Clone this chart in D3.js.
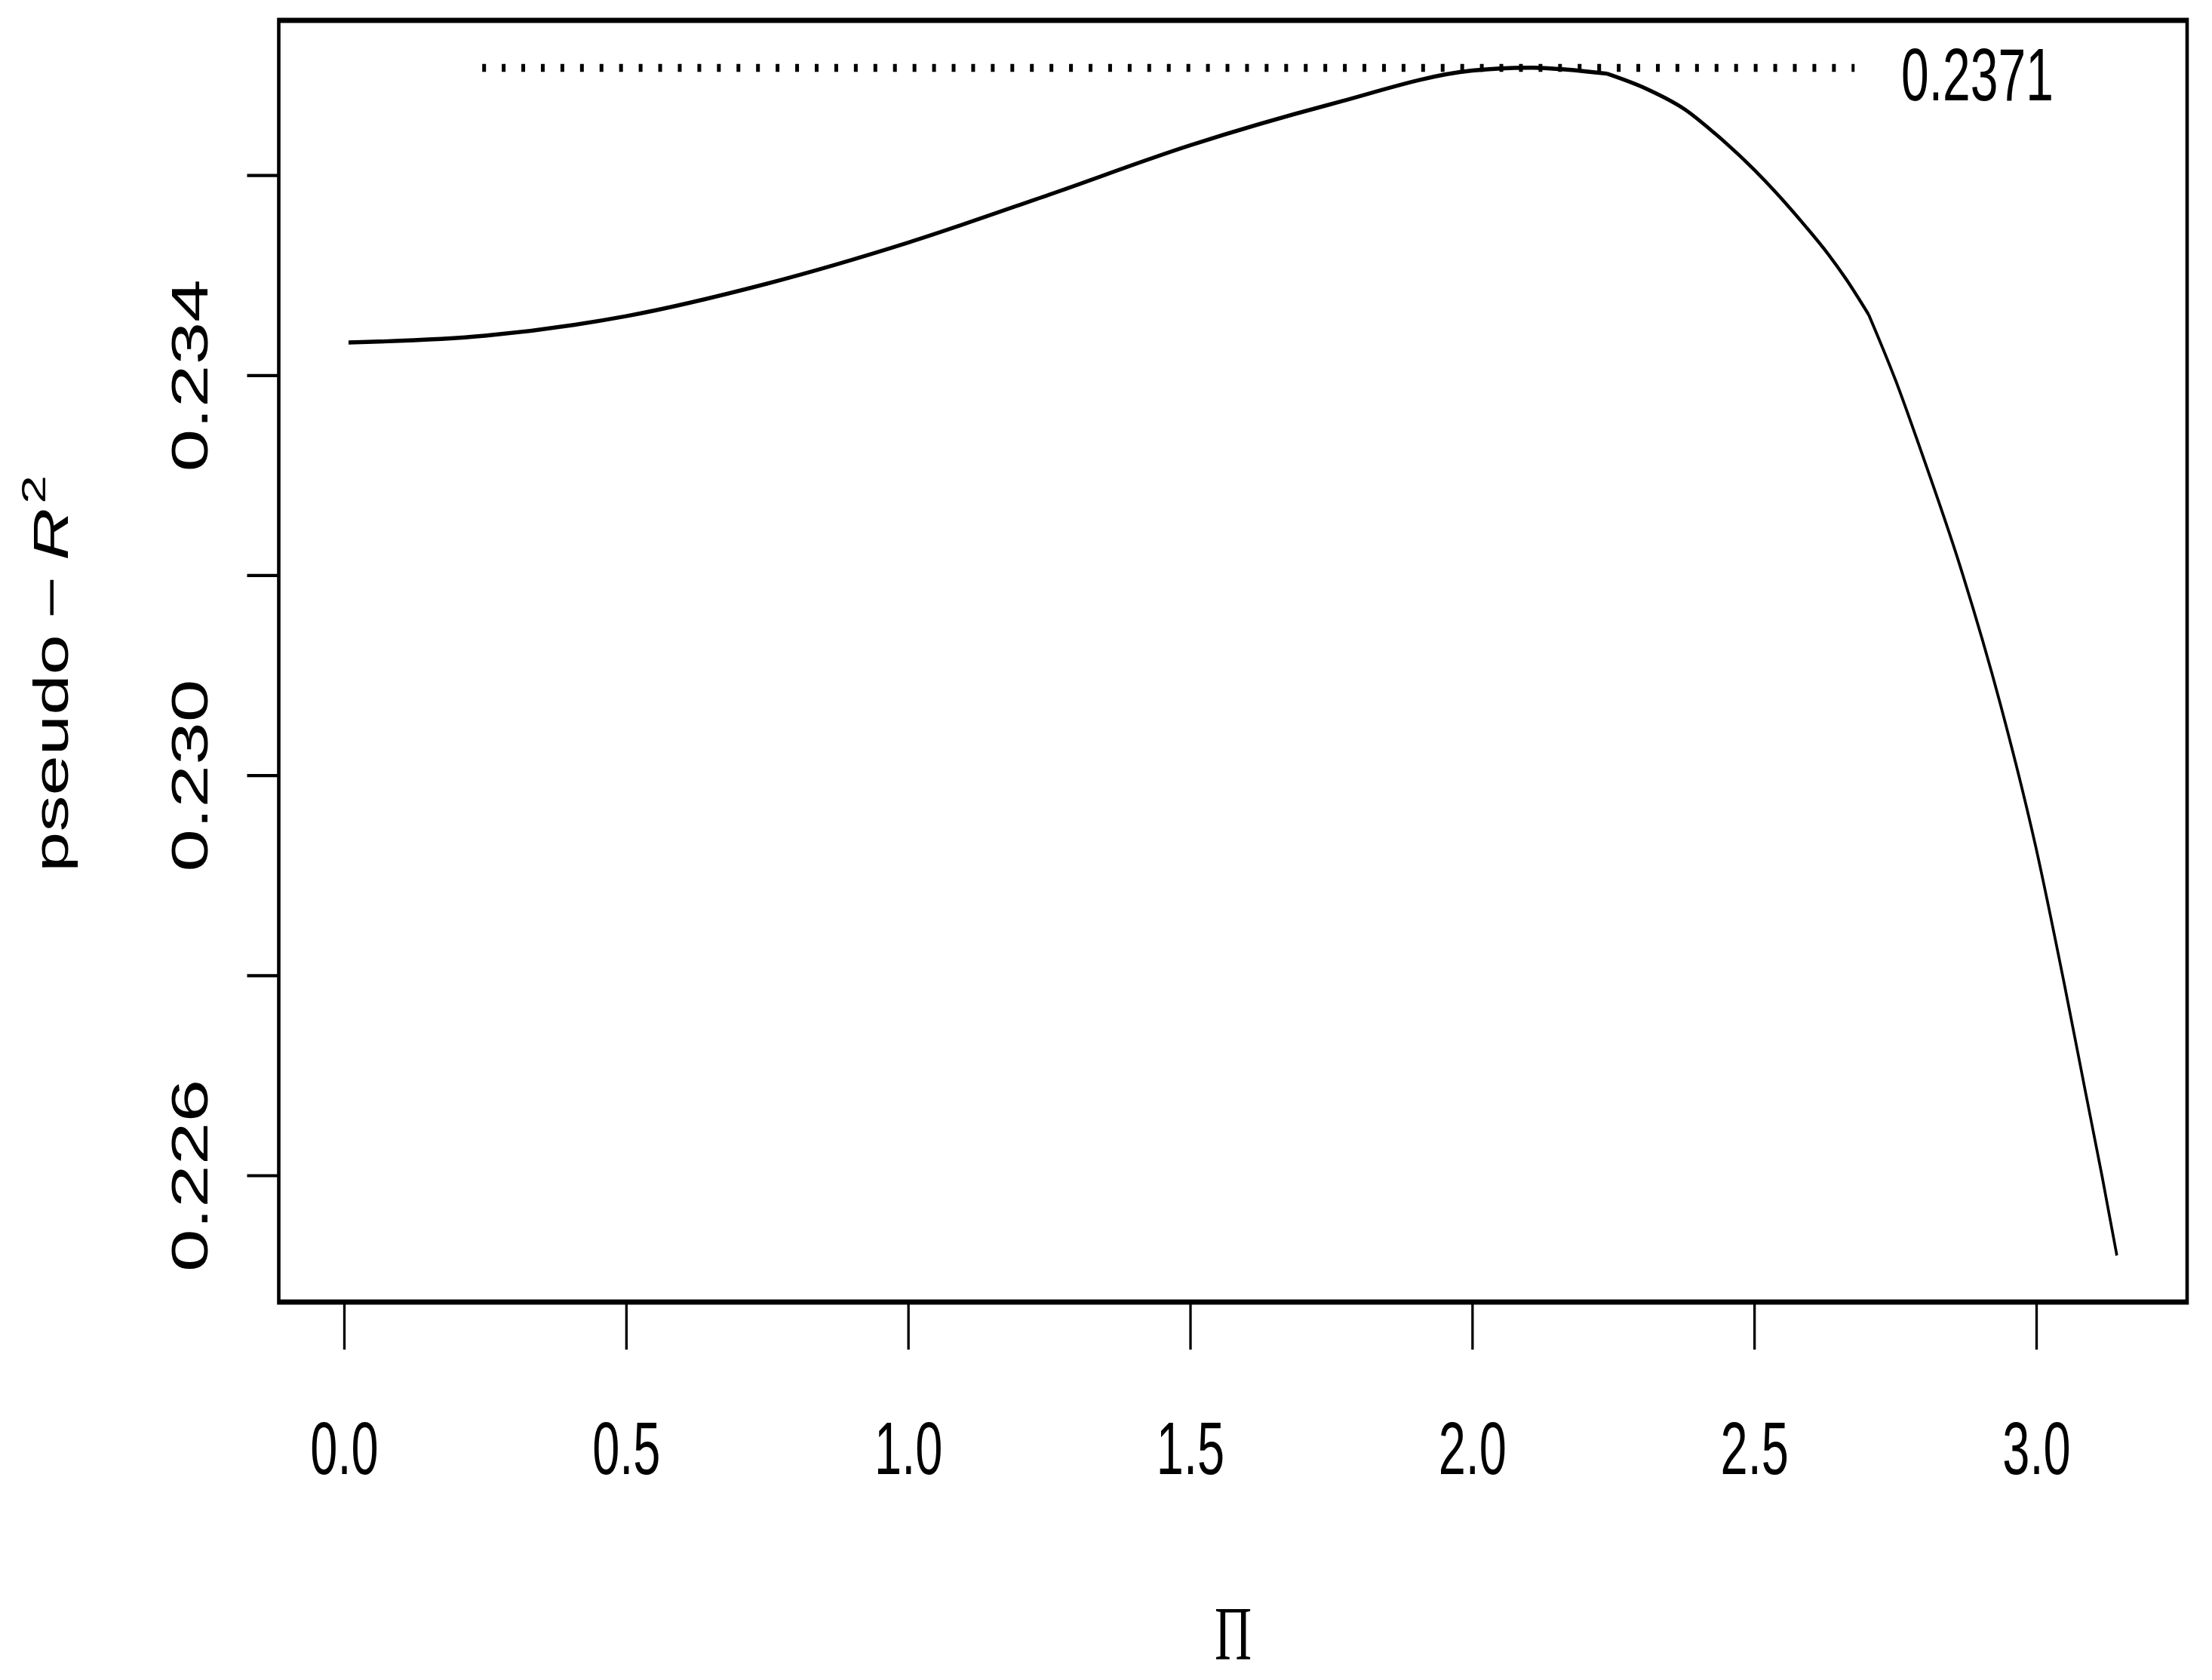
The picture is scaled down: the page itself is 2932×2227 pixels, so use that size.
<!DOCTYPE html>
<html>
<head>
<meta charset="utf-8">
<script src="https://cdn.jsdelivr.net/npm/d3@7"></script>
<style>
html, body { margin: 0; padding: 0; background: #ffffff; }
svg { display: block; }
</style>
</head>
<body>
<script>
// ---- data ----
const piValues = [0.008, 0.25, 0.5, 0.75, 1.0, 1.25, 1.5, 1.75, 2.0, 2.1, 2.239, 2.31, 2.377, 2.43, 2.5, 2.591, 2.631, 2.663, 2.703, 2.752, 2.796, 2.864, 2.937, 2.999, 3.051, 3.088, 3.117, 3.143];
const r2Values = [0.234324, 0.234392, 0.234588, 0.234913, 0.235323, 0.235802, 0.236296, 0.236708, 0.237043, 0.237072, 0.237012, 0.236858, 0.236655, 0.236416, 0.236052, 0.235486, 0.235209, 0.234958, 0.234603, 0.233927, 0.233236, 0.232107, 0.230697, 0.229287, 0.227877, 0.226812, 0.225982, 0.225196];
const kinkPi = [2.239, 2.703];
const xTickValues = [0.0, 0.5, 1.0, 1.5, 2.0, 2.5, 3.0];
const yTickValues = [0.226, 0.228, 0.230, 0.232, 0.234, 0.236];
const yTickLabelled = [0.226, 0.230, 0.234];
const maxLineFrom = 0.245, maxLineTo = 2.678, maxValue = 0.23707;
const maxLabel = "0.2371";
const xTitle = "\u03A0";

// ---- layout ----
const W = 2932, H = 2227;
const S = 1.5; // vertical stretch of the whole figure
const pL = 369.5, pR = 2899, pT = 27, pB = 1726;

const svg = d3.select("body").append("svg").attr("width", W).attr("height", H);
svg.append("rect").attr("width", W).attr("height", H).attr("fill", "#fff");
const g = svg.append("g").attr("transform", `scale(1,${S})`);

const x = d3.scaleLinear().domain([-0.1157, 3.2675]).range([pL, pR]);
const y = d3.scaleLinear().domain([0.224731, 0.237545]).range([pB / S, pT / S]);

// curve, split at the kinks so the corners stay sharp
const pts = piValues.map((p, i) => [p, r2Values[i]]);
const segments = [];
let cur = [];
pts.forEach(pt => {
  cur.push(pt);
  if (kinkPi.some(k => Math.abs(k - pt[0]) < 1e-9)) { segments.push(cur); cur = [pt]; }
});
segments.push(cur);
const line = d3.line().x(d => x(d[0])).y(d => y(d[1])).curve(d3.curveMonotoneX);
g.append("path").attr("d", segments.map(s => line(s)).join(""))
  .attr("fill", "none").attr("stroke", "#000").attr("stroke-width", 3.6).attr("stroke-linejoin", "round");

// dotted max line
g.append("line")
  .attr("x1", x(maxLineFrom)).attr("x2", x(maxLineTo))
  .attr("y1", y(maxValue)).attr("y2", y(maxValue))
  .attr("stroke", "#000").attr("stroke-width", 7).attr("stroke-dasharray", "5 20.93");

g.append("text").attr("x", 2520).attr("y", 133 / S)
  .attr("font-family", "Liberation Sans, Arial, sans-serif").attr("font-size", 66)
  .text(maxLabel);

// x axis
const xAxis = g.append("g").attr("transform", `translate(0,${pB / S})`)
  .call(d3.axisBottom(x).tickValues(xTickValues).tickSize(42).tickFormat(d3.format(".1f")));
xAxis.select(".domain").remove();
xAxis.selectAll(".tick line").attr("stroke", "#000").attr("stroke-width", 3.3);
xAxis.selectAll(".tick text")
  .attr("y", (1954 - pB) / S).attr("dy", 0)
  .attr("font-family", "Liberation Sans, Arial, sans-serif").attr("font-size", 65).attr("fill", "#000");

// y axis
const yAxis = g.append("g").attr("transform", `translate(${pL},0)`)
  .call(d3.axisLeft(y).tickValues(yTickValues).tickSize(42)
    .tickFormat(d => yTickLabelled.some(v => Math.abs(v - d) < 1e-9) ? d3.format(".3f")(d) : ""));
yAxis.select(".domain").remove();
yAxis.selectAll(".tick line").attr("stroke", "#000").attr("stroke-width", 2.8);
yAxis.selectAll(".tick text")
  .attr("x", null).attr("dy", 0)
  .attr("transform", `translate(${275 - pL},0) rotate(-90)`)
  .attr("text-anchor", "middle")
  .attr("font-family", "Liberation Sans, Arial, sans-serif").attr("font-size", 68).attr("fill", "#000");

// box
g.append("rect").attr("x", pL).attr("y", pT / S)
  .attr("width", pR - pL).attr("height", (pB - pT) / S)
  .attr("fill", "none").attr("stroke", "#000").attr("stroke-width", 4.6);

// x title
g.append("text").attr("x", 1634.5).attr("y", 2200 / S)
  .attr("text-anchor", "middle")
  .attr("font-family", "Liberation Serif, Times New Roman, serif").attr("font-size", 68)
  .text(xTitle);

// y title: pseudo − R^2
const yt = g.append("text")
  .attr("transform", `translate(90,${1156 / S}) rotate(-90)`)
  .attr("text-anchor", "start")
  .attr("font-family", "Liberation Sans, Arial, sans-serif").attr("font-size", 64);
yt.append("tspan").text("pseudo");
yt.append("tspan").attr("dx", 14).text("\u2212");
yt.append("tspan").attr("dx", 14).attr("font-style", "italic").text("R");
yt.append("tspan").attr("dx", 4).attr("dy", -30).attr("font-size", 45).text("2");
</script>
</body>
</html>
